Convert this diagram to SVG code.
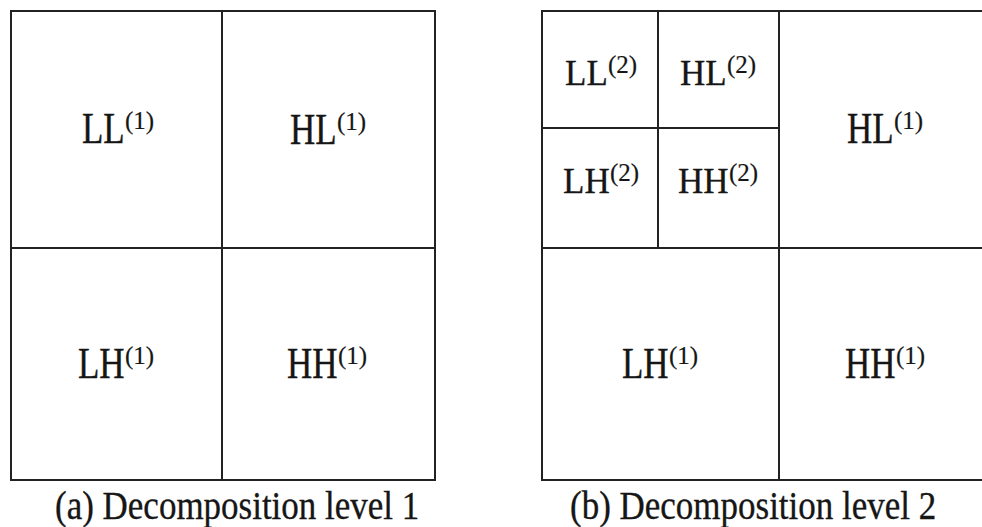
<svg xmlns="http://www.w3.org/2000/svg" width="982" height="527" viewBox="0 0 982 527">
<style>
.cell{fill:#fff;stroke:#222;stroke-width:2}
.m{font-family:"Liberation Serif","Times New Roman",serif;font-size:35px;fill:#161616;stroke:#161616;stroke-width:0.3}
.s{font-family:"Liberation Serif","Times New Roman",serif;font-size:25px;fill:#161616;stroke:#161616;stroke-width:0.2}
.cap{font-family:"Liberation Serif","Times New Roman",serif;font-size:35px;fill:#161616;stroke:#161616;stroke-width:0.3}
</style>
<rect width="982" height="527" fill="#fff"/>
<g id="level1">
  <g id="LL1a"><rect class="cell" x="11" y="11" width="211" height="237"/>
    <text class="m" transform="translate(82,143) scale(1,1.29)">LL</text><text class="s" x="125" y="129">(1)</text></g>
  <g id="HL1a"><rect class="cell" x="222" y="11" width="213" height="237"/>
    <text class="m" transform="translate(290,144) scale(1,1.29)">HL</text><text class="s" x="337" y="130">(1)</text></g>
  <g id="LH1a"><rect class="cell" x="11" y="248" width="211" height="232"/>
    <text class="m" transform="translate(78,378) scale(1,1.29)">LH</text><text class="s" x="125" y="364">(1)</text></g>
  <g id="HH1a"><rect class="cell" x="222" y="248" width="213" height="232"/>
    <text class="m" transform="translate(287,378) scale(1,1.29)">HH</text><text class="s" x="338" y="364">(1)</text></g>
</g>
<g id="level2">
  <g id="LL2"><rect class="cell" x="542" y="11" width="116" height="117"/>
    <text class="m" x="565" y="85">LL</text><text class="s" x="608" y="73">(2)</text></g>
  <g id="HL2"><rect class="cell" x="658" y="11" width="121" height="117"/>
    <text class="m" x="680" y="85">HL</text><text class="s" x="727" y="73">(2)</text></g>
  <g id="LH2"><rect class="cell" x="542" y="128" width="116" height="120"/>
    <text class="m" x="563" y="193">LH</text><text class="s" x="610" y="181">(2)</text></g>
  <g id="HH2"><rect class="cell" x="658" y="128" width="121" height="120"/>
    <text class="m" x="678" y="193">HH</text><text class="s" x="729" y="181">(2)</text></g>
  <g id="HL1b"><rect class="cell" x="779" y="11" width="230" height="237"/>
    <text class="m" transform="translate(847,143) scale(1,1.29)">HL</text><text class="s" x="894" y="129">(1)</text></g>
  <g id="LH1b"><rect class="cell" x="542" y="248" width="237" height="232"/>
    <text class="m" transform="translate(622,378) scale(1,1.29)">LH</text><text class="s" x="669" y="364">(1)</text></g>
  <g id="HH1b"><rect class="cell" x="779" y="248" width="230" height="232"/>
    <text class="m" transform="translate(845,378) scale(1,1.29)">HH</text><text class="s" x="896" y="364">(1)</text></g>
</g>
<g id="connectors"></g>
<g id="captions">
  <text class="cap" transform="translate(55,519) scale(1,1.12)">(a) Decomposition level 1</text>
  <text class="cap" transform="translate(570,519) scale(1,1.12)">(b) Decomposition level 2</text>
</g>
</svg>
